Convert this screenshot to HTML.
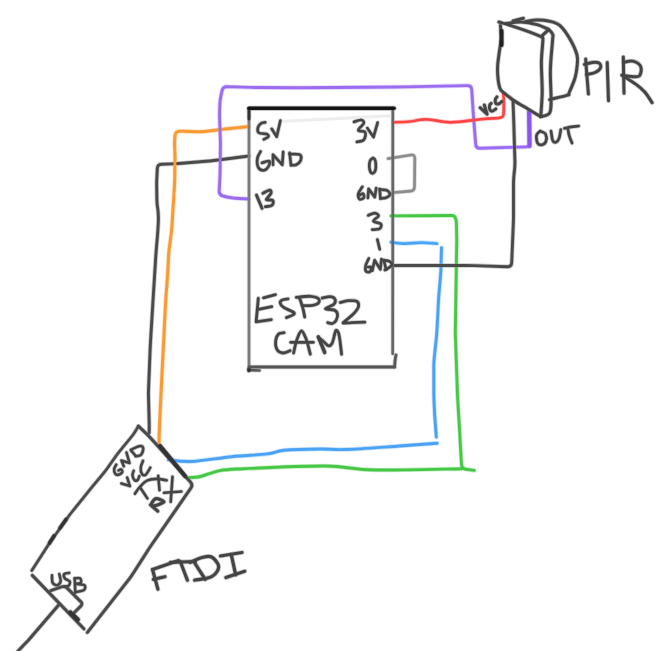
<!DOCTYPE html>
<html><head><meta charset="utf-8"><style>
html,body{margin:0;padding:0;background:#fff;width:671px;height:651px;overflow:hidden;font-family:"Liberation Sans",sans-serif;}
svg{display:block}
</style></head><body>
<svg width="671" height="651" viewBox="0 0 671 651">
<rect width="671" height="651" fill="#fff"/>
<g fill="none" stroke-linecap="round" stroke-linejoin="round" opacity="0.3">
<path d="M249.0,156.0 L214.0,160.5 Q210.0,161.0 206.0,161.3 L179.0,163.5 Q175.0,163.8 171.0,163.9 L161.5,164.3 Q157.5,164.4 157.3,168.4 L156.8,179.0 Q156.6,183.0 156.7,187.0 L156.9,200.0 Q157.0,204.0 157.6,207.9 L157.7,208.1 Q158.3,212.0 158.3,216.0 L158.4,218.0 Q158.4,222.0 158.1,226.0 L157.8,231.0 Q157.5,235.0 157.2,239.0 L156.4,248.0 Q156.1,252.0 155.8,256.0 L153.3,296.0 Q153.0,300.0 152.8,304.0 L150.5,342.0 Q150.3,346.0 150.1,350.0 L148.6,388.0 Q148.4,392.0 148.5,396.0 L149.2,423.6 Q149.3,426.7 149.2,429.9 L149.2,433.0" stroke="#4a4a4a" stroke-width="4.50"/>
<path d="M249.0,126.6 L225.0,129.0 Q221.0,129.4 217.0,129.9 L209.0,131.0 Q205.0,131.5 201.0,131.7 L199.3,131.8 Q195.3,132.0 191.3,131.6 L189.0,131.4 Q185.0,131.0 181.0,131.2 L179.5,131.3 Q175.5,131.5 175.0,135.5 L175.0,136.0 Q174.5,140.0 174.6,144.0 L174.9,156.0 Q175.0,160.0 174.9,164.0 L174.7,179.0 Q174.6,183.0 174.4,187.0 L172.0,225.0 Q171.8,229.0 171.3,233.0 L169.3,248.0 Q168.8,252.0 168.6,256.0 L167.8,271.0 Q167.6,275.0 167.3,279.0 L166.0,296.0 Q165.7,300.0 165.5,304.0 L163.6,342.0 Q163.4,346.0 163.2,350.0 L161.3,388.0 Q161.1,392.0 160.9,396.0 L159.7,421.0 Q159.5,425.0 159.4,429.0 L159.0,443.0" stroke="#f99a33" stroke-width="4.60"/>
<path d="M249.0,199.0 L235.0,198.2 Q231.0,198.0 227.1,197.0 L222.9,196.0 Q219.0,195.0 219.2,191.0 L219.8,179.0 Q220.0,175.0 220.1,171.0 L220.4,149.0 Q220.5,145.0 220.4,141.0 L219.6,119.0 Q219.5,115.0 219.6,111.0 L219.9,104.0 Q220.0,100.0 220.9,96.1 L222.1,90.4 Q223.0,86.5 227.0,86.6 L227.0,86.7 Q231.0,86.8 235.0,86.9 L251.0,87.4 Q255.0,87.5 259.0,87.5 L296.0,87.8 Q300.0,87.8 304.0,87.8 L396.0,87.0 Q400.0,87.0 404.0,86.9 L467.5,85.6 Q471.5,85.5 471.7,89.5 L472.8,106.0 Q473.0,110.0 473.3,114.0 L475.7,144.3 Q476.0,148.3 480.0,148.2 L525.9,146.9 Q529.9,146.8 529.8,142.8 L529.0,112.2" stroke="#9b6cf0" stroke-width="4.50"/>
<path d="M529.5,146.0 L529.2,112.0" stroke="#8a55ee" stroke-width="5.80"/>
<path d="M393.0,122.3 C395.8,122.2 404.5,122.0 410.0,121.5 C415.5,121.0 419.2,119.2 425.9,119.3 C432.6,119.4 441.6,122.2 450.0,122.3 C458.4,122.4 469.8,120.4 476.0,119.8 C482.2,119.2 483.5,119.0 487.3,118.7 C491.1,118.4 496.4,118.2 499.0,117.8 C501.6,117.4 502.0,117.3 502.8,116.3 C503.6,115.3 503.6,115.2 503.7,112.0 C503.8,108.8 503.7,100.3 503.6,97.3 C503.5,94.2 503.3,94.3 503.2,93.7" stroke="#ff4444" stroke-width="4.30"/>
<path d="M388.0,158.6 L410.8,155.0 Q414.8,154.4 414.8,158.4 L414.5,186.8 Q414.5,190.8 410.5,191.2 L393.0,192.7" stroke="#8c8c8c" stroke-width="4.30"/>
<path d="M391.0,215.9 L451.8,215.5 Q454.3,215.5 455.3,217.8 L455.3,217.8 Q456.3,220.0 456.4,222.5 L456.7,236.0 Q456.8,240.0 456.7,244.0 L455.4,328.0 Q455.3,332.0 455.4,336.0 L457.3,389.4 Q457.4,393.4 457.6,397.4 L459.7,432.0 Q459.9,436.0 460.1,440.0 L461.5,464.7 Q461.7,468.7 465.7,469.2 L474.3,470.4" stroke="#46c846" stroke-width="4.50"/>
<path d="M461.7,468.7 C447.2,468.9 397.8,470.4 375.0,470.0 C352.2,469.6 346.9,466.2 325.0,466.0 C303.1,465.8 261.1,467.9 243.5,468.7 C225.9,469.5 226.8,469.3 219.7,470.6 C212.5,471.9 206.2,475.3 200.6,476.5 C195.0,477.7 188.7,477.5 186.3,477.7" stroke="#46c846" stroke-width="4.50"/>
<path d="M391.0,242.3 C393.3,242.5 400.0,243.6 405.0,243.6 C410.0,243.6 415.7,242.6 421.0,242.6 C426.3,242.6 434.2,243.4 436.9,243.6" stroke="#4aa2f6" stroke-width="4.50"/>
<path d="M441.5,247.7 L441.0,266.7 Q440.9,270.7 440.6,274.7 L438.8,296.0 Q438.5,300.0 438.3,304.0 L437.1,328.0 Q436.9,332.0 436.5,336.0 L434.2,358.7 Q433.8,362.7 433.8,366.7 L433.8,389.4 Q433.8,393.4 433.9,397.4 L434.4,409.0 Q434.5,413.0 434.8,417.0 L436.3,437.0" stroke="#4aa2f6" stroke-width="4.50"/>
<path d="M437.2,443.3 C431.0,443.8 415.2,445.0 400.0,446.0 C384.8,447.0 359.3,449.0 346.0,449.5 C332.7,450.0 330.3,448.9 320.0,449.0 C309.7,449.1 292.8,449.5 284.0,450.3 C275.2,451.1 276.1,452.8 267.4,453.9 C258.7,455.0 244.3,455.4 231.6,456.7 C218.9,458.0 201.5,461.0 191.0,461.5 C180.5,462.0 172.2,460.1 168.4,459.8" stroke="#4aa2f6" stroke-width="4.50"/>
<path d="M393.0,265.5 L466.0,265.5 Q470.0,265.5 474.0,265.6 L507.5,266.7 Q511.5,266.8 511.7,262.8 L513.3,224.0 Q513.5,220.0 513.5,216.0 L513.5,184.0 Q513.5,180.0 513.9,176.0 L514.6,169.0 Q515.0,165.0 514.9,161.0 L514.1,134.0 Q514.0,130.0 513.9,126.0 L513.0,100.0" stroke="#4a4a4a" stroke-width="4.50"/>
<path d="M249.0,109.0 L249.0,370.5" stroke="#7a7a7a" stroke-width="4.20"/>
<path d="M249.0,370.0 L259.5,370.5" stroke="#585858" stroke-width="4.20"/>
<path d="M249.0,370.5 L249.0,369.0" stroke="#333333" stroke-width="5.20"/>
<path d="M249.0,108.3 L249.0,119.0" stroke="#333333" stroke-width="4.40"/>
<path d="M392.8,111.0 L392.7,353.8" stroke="#666666" stroke-width="4.20"/>
<path d="M396.0,355.0 L395.5,357.5 Q395.0,360.0 394.9,362.5 L394.6,367.0" stroke="#585858" stroke-width="4.40"/>
<path d="M249.0,367.0 L394.6,367.0" stroke="#555555" stroke-width="4.40"/>
<path d="M249.0,108.3 L394.0,108.3" stroke="#151515" stroke-width="5.10"/>
<path d="M265.2,122.4 C264.5,122.6 262.3,122.4 261.1,123.3 C259.9,124.2 258.1,126.3 257.8,127.9 C257.5,129.5 257.7,132.0 259.2,133.0 C260.7,134.0 265.1,133.3 266.6,133.9 C268.1,134.5 268.9,135.8 268.4,136.7 C267.9,137.6 264.6,138.9 263.8,139.4" stroke="#444444" stroke-width="4.30"/>
<path d="M271.7,128.8 L276.7,136.7 L280.4,120.5" stroke="#444444" stroke-width="4.30"/>
<path d="M260.6,151.4 C260.1,152.6 257.8,155.6 257.4,158.3 C257.0,161.0 257.2,165.5 258.3,167.5 C259.4,169.5 262.1,170.5 263.8,170.3 C265.5,170.2 267.5,168.1 268.4,166.6 C269.3,165.1 270.5,161.7 269.4,161.1 C268.3,160.5 263.2,162.6 262.0,162.9" stroke="#444444" stroke-width="4.30"/>
<path d="M273.0,164.8 L273.0,154.6 L282.3,164.8 L283.2,151.9" stroke="#444444" stroke-width="4.30"/>
<path d="M289.6,152.8 L291.0,165.2" stroke="#444444" stroke-width="4.30"/>
<path d="M289.6,154.2 C291.3,154.3 298.0,153.6 299.8,154.6 C301.6,155.6 301.3,158.5 300.7,160.2 C300.1,161.9 297.7,164.0 296.1,164.8 C294.5,165.6 291.9,165.1 291.0,165.2" stroke="#444444" stroke-width="4.30"/>
<path d="M256.5,195.1 L262.0,208.3" stroke="#444444" stroke-width="4.50"/>
<path d="M262.9,193.2 C264.0,192.7 268.4,190.0 269.7,190.1 C271.0,190.2 271.5,191.9 270.9,193.5 C270.3,195.1 266.0,198.6 266.3,199.7 C266.6,200.8 271.7,199.4 272.7,200.3 C273.7,201.2 273.3,204.1 272.1,205.2 C270.9,206.3 266.5,206.4 265.4,206.7" stroke="#444444" stroke-width="4.50"/>
<path d="M354.1,121.9 C355.2,121.6 359.4,119.6 361.0,119.8 C362.6,120.0 364.2,121.6 363.8,123.3 C363.4,125.0 358.1,128.7 358.3,130.2 C358.5,131.7 364.3,130.7 365.2,132.3 C366.1,133.9 365.2,138.2 363.8,139.8 C362.4,141.4 358.0,141.6 356.9,141.9" stroke="#444444" stroke-width="4.30"/>
<path d="M367.3,128.1 L373.5,137.1 L377.6,122.6" stroke="#444444" stroke-width="4.30"/>
<path d="M373.0,158.0 C372.5,158.4 370.8,159.1 370.2,160.5 C369.6,161.9 369.2,164.6 369.3,166.5 C369.4,168.4 369.9,170.9 370.5,172.0 C371.1,173.1 372.2,173.4 373.0,173.2 C373.8,172.9 374.8,172.0 375.3,170.5 C375.8,169.0 375.9,165.8 375.8,164.0 C375.7,162.2 375.3,160.5 374.8,159.5 C374.3,158.5 373.3,158.2 373.0,158.0" stroke="#444444" stroke-width="4.30"/>
<path d="M362.4,186.8 C361.7,188.0 358.8,191.6 358.3,193.7 C357.9,195.8 358.8,198.5 359.7,199.2 C360.6,199.9 363.2,198.7 363.8,197.8 C364.4,196.9 363.8,194.1 363.1,193.7 C362.4,193.2 360.3,194.9 359.7,195.1" stroke="#444444" stroke-width="4.30"/>
<path d="M367.9,197.8 L368.6,188.9 L374.8,197.1 L376.2,188.2" stroke="#444444" stroke-width="4.30"/>
<path d="M379.7,188.9 L380.4,198.5" stroke="#444444" stroke-width="4.30"/>
<path d="M379.7,189.5 C380.9,189.6 384.9,189.4 386.6,190.2 C388.3,191.0 390.1,193.1 390.0,194.4 C389.9,195.7 387.5,197.1 385.9,197.8 C384.3,198.5 381.3,198.4 380.4,198.5" stroke="#444444" stroke-width="4.30"/>
<path d="M368.2,215.4 C369.3,215.0 372.9,213.0 374.6,213.1 C376.3,213.2 378.8,214.6 378.6,215.9 C378.4,217.2 373.0,219.8 373.4,221.1 C373.8,222.4 379.8,222.8 380.9,224.0 C381.9,225.2 381.1,227.7 379.7,228.6 C378.3,229.5 373.5,229.5 372.3,229.7" stroke="#444444" stroke-width="4.30"/>
<path d="M377.4,239.5 L379.7,249.3" stroke="#444444" stroke-width="4.30"/>
<path d="M368.8,258.5 C368.3,259.6 366.4,262.7 365.9,264.8 C365.4,266.9 365.2,270.1 365.9,271.2 C366.6,272.3 369.1,272.4 370.0,271.7 C370.9,271.0 371.4,267.9 371.1,267.1 C370.8,266.3 368.7,267.1 368.2,267.1" stroke="#444444" stroke-width="4.30"/>
<path d="M372.3,270.6 L374.6,260.2 L380.3,269.4 L381.5,259.1" stroke="#444444" stroke-width="4.30"/>
<path d="M383.8,260.2 L386.1,269.4" stroke="#444444" stroke-width="4.30"/>
<path d="M383.8,260.2 C384.8,260.4 388.2,260.6 389.5,261.4 C390.8,262.2 392.2,263.6 391.8,264.8 C391.4,266.1 388.4,268.0 387.2,268.9 C386.0,269.8 385.3,269.8 384.9,270.0" stroke="#444444" stroke-width="4.30"/>
<path d="M258.3,298.3 L256.2,321.3" stroke="#444444" stroke-width="4.40"/>
<path d="M263.5,297.8 L275.5,294.7" stroke="#444444" stroke-width="4.40"/>
<path d="M258.3,309.3 L271.8,306.7" stroke="#444444" stroke-width="4.40"/>
<path d="M256.2,321.8 L271.3,319.7" stroke="#444444" stroke-width="4.40"/>
<path d="M288.0,298.9 C287.1,299.1 283.6,299.2 282.3,299.9 C281.0,300.6 280.0,301.8 280.2,303.0 C280.4,304.2 281.1,305.6 283.3,307.2 C285.6,308.8 292.1,311.1 293.7,312.4 C295.3,313.7 293.9,314.1 292.7,315.0 C291.5,315.9 287.4,317.2 286.4,317.6" stroke="#444444" stroke-width="4.40"/>
<path d="M299.5,297.8 C300.0,299.4 301.7,304.0 302.6,307.2 C303.5,310.4 304.4,315.5 304.7,317.1" stroke="#444444" stroke-width="4.40"/>
<path d="M296.3,297.3 C298.6,297.1 306.6,296.0 310.4,296.3 C314.1,296.6 317.6,297.7 318.8,298.9 C320.0,300.1 319.1,302.5 317.7,303.6 C316.3,304.7 313.0,305.3 310.4,305.6 C307.8,305.9 303.5,305.6 302.1,305.6" stroke="#444444" stroke-width="4.40"/>
<path d="M322.3,298.0 C323.6,297.8 327.8,296.6 329.9,296.7 C332.0,296.8 334.1,297.6 334.8,298.9 C335.5,300.2 335.5,302.6 333.9,304.3 C332.3,306.0 325.3,307.8 325.4,308.8 C325.5,309.8 332.4,309.2 334.4,310.1 C336.4,311.0 337.2,312.5 337.5,314.2 C337.8,315.9 336.9,318.8 336.1,320.4 C335.3,321.9 334.0,323.1 332.6,323.5 C331.2,323.9 328.5,322.8 327.7,322.6" stroke="#444444" stroke-width="4.40"/>
<path d="M340.2,302.5 C341.5,302.2 345.1,300.9 347.8,300.7 C350.6,300.5 354.9,300.2 356.7,301.2 C358.5,302.2 358.9,304.5 358.5,306.5 C358.1,308.5 356.1,311.0 354.0,313.3 C351.9,315.6 347.8,318.8 346.0,320.4 C344.2,322.0 342.4,322.7 343.3,323.1 C344.2,323.5 347.8,322.8 351.4,322.6 C355.0,322.5 362.6,322.3 364.8,322.2" stroke="#444444" stroke-width="4.40"/>
<path d="M284.1,332.7 C283.2,332.9 280.1,332.6 278.7,333.9 C277.3,335.2 276.0,337.9 275.7,340.5 C275.4,343.1 275.7,347.3 276.9,349.4 C278.1,351.5 280.7,352.8 282.9,353.0 C285.1,353.2 288.9,351.0 290.1,350.6" stroke="#444444" stroke-width="4.40"/>
<path d="M293.6,353.0 C294.1,350.9 295.3,344.2 296.6,340.5 C297.9,336.8 299.8,331.2 301.4,331.0 C303.0,330.8 304.7,335.4 306.2,339.3 C307.7,343.2 309.6,351.7 310.3,354.2" stroke="#444444" stroke-width="4.40"/>
<path d="M290.7,342.3 L313.3,342.3" stroke="#444444" stroke-width="4.40"/>
<path d="M318.3,336.9 C318.8,338.2 320.4,341.9 321.5,344.5 C322.6,347.1 324.1,351.1 324.6,352.4" stroke="#444444" stroke-width="5.10"/>
<path d="M318.9,337.5 C319.8,338.2 322.4,340.6 324.0,342.0 C325.6,343.4 327.2,345.6 328.5,345.9 C329.8,346.1 331.1,345.0 332.0,343.5 C332.9,342.0 333.4,339.2 334.0,337.0 C334.6,334.8 335.1,331.1 335.9,330.4 C336.6,329.7 337.8,331.2 338.5,333.0 C339.2,334.8 339.5,337.5 340.0,341.0 C340.5,344.5 341.3,352.0 341.6,354.2" stroke="#444444" stroke-width="4.40"/>
<path d="M480.1,107.7 L487.1,114.2 L484.3,105.0" stroke="#444444" stroke-width="4.60"/>
<path d="M491.2,103.4 C490.9,103.7 489.8,104.2 489.6,105.2 C489.4,106.2 489.4,108.4 489.8,109.4 C490.2,110.4 491.1,111.3 492.1,111.2 C493.1,111.1 495.2,109.3 495.8,108.9" stroke="#444444" stroke-width="4.60"/>
<path d="M497.0,96.9 C496.7,97.3 495.6,98.1 495.4,99.2 C495.2,100.3 495.2,102.6 495.8,103.4 C496.4,104.2 498.0,104.1 499.0,103.8 C500.0,103.5 501.3,101.9 501.8,101.5" stroke="#444444" stroke-width="4.60"/>
<path d="M540.2,131.0 C539.6,131.7 537.1,133.0 536.6,135.0 C536.1,137.0 536.6,141.4 537.5,143.0 C538.4,144.6 540.6,145.1 542.0,144.8 C543.4,144.5 545.4,143.1 546.0,141.3 C546.6,139.5 546.4,135.8 545.6,134.1 C544.8,132.4 541.9,131.8 541.1,131.4" stroke="#444444" stroke-width="4.30"/>
<path d="M551.0,131.0 C551.3,132.6 551.9,138.5 552.7,140.4 C553.5,142.3 554.9,142.5 555.9,142.2 C556.9,141.9 558.2,140.7 559.0,138.6 C559.8,136.5 560.5,131.1 560.8,129.6" stroke="#444444" stroke-width="4.30"/>
<path d="M564.4,128.3 C565.6,128.1 569.1,127.3 571.5,126.9 C573.9,126.5 577.5,126.2 578.7,126.0" stroke="#444444" stroke-width="4.30"/>
<path d="M567.9,128.7 C568.1,129.9 568.6,133.5 569.3,135.9 C570.0,138.3 571.5,141.8 572.0,143.0" stroke="#444444" stroke-width="4.30"/>
<path d="M585.7,59.1 C585.9,62.1 586.5,71.2 587.0,77.0 C587.5,82.8 588.2,91.2 588.4,94.0" stroke="#444444" stroke-width="4.60"/>
<path d="M584.4,64.4 C585.7,64.1 589.9,62.6 592.4,62.4 C594.9,62.2 597.8,62.2 599.1,63.1 C600.5,64.0 601.2,66.2 600.5,67.8 C599.8,69.4 597.5,71.4 595.1,72.5 C592.8,73.6 587.9,74.2 586.4,74.5" stroke="#444444" stroke-width="4.60"/>
<path d="M607.2,62.4 L608.5,100.7" stroke="#444444" stroke-width="4.60"/>
<path d="M623.3,57.1 L624.0,93.3" stroke="#444444" stroke-width="4.60"/>
<path d="M623.3,62.4 C624.9,62.2 629.8,60.4 632.7,61.1 C635.6,61.8 639.6,64.0 640.7,66.5 C641.8,69.0 641.0,74.1 639.4,75.8 C637.8,77.5 634.2,76.6 631.3,76.5 C628.4,76.4 623.5,75.4 622.0,75.2" stroke="#444444" stroke-width="4.60"/>
<path d="M622.0,75.2 C624.2,76.7 631.6,81.1 635.4,83.9 C639.2,86.7 641.9,88.8 644.7,91.9 C647.5,95.0 650.9,100.9 652.1,102.7" stroke="#444444" stroke-width="4.60"/>
<path d="M152.5,569.5 L157.9,589.2" stroke="#444444" stroke-width="4.80"/>
<path d="M152.5,569.5 L178.5,560.6" stroke="#444444" stroke-width="4.80"/>
<path d="M153.4,579.4 L165.0,576.7" stroke="#444444" stroke-width="4.80"/>
<path d="M170.4,562.4 L195.5,561.5" stroke="#444444" stroke-width="4.80"/>
<path d="M180.3,561.5 L187.4,580.2" stroke="#444444" stroke-width="4.80"/>
<path d="M193.7,561.5 L205.3,579.4" stroke="#444444" stroke-width="4.80"/>
<path d="M190.0,562.4 C192.0,561.6 198.4,558.4 202.0,557.5 C205.6,556.6 208.8,555.5 211.6,557.0 C214.4,558.5 218.7,563.5 218.7,566.8 C218.7,570.1 215.6,574.5 211.6,576.7 C207.6,578.9 197.4,579.6 194.6,580.2" stroke="#444444" stroke-width="4.80"/>
<path d="M220.5,556.0 L242.0,552.5" stroke="#444444" stroke-width="4.80"/>
<path d="M231.2,554.3 L235.7,574.9" stroke="#444444" stroke-width="4.80"/>
<path d="M225.9,577.6 L244.7,571.3" stroke="#444444" stroke-width="4.80"/>
<path d="M116.3,464.6 C116.0,465.3 114.4,467.4 114.2,468.9 C114.0,470.4 114.5,472.7 115.2,473.7 C115.9,474.7 117.3,475.1 118.5,474.8 C119.7,474.5 121.8,473.0 122.2,472.1 C122.6,471.2 121.7,469.7 121.1,469.4 C120.5,469.1 118.9,470.3 118.5,470.5" stroke="#444444" stroke-width="4.20"/>
<path d="M123.8,466.2 L121.4,460.5 L129.5,463.0 L126.5,452.5" stroke="#444444" stroke-width="4.20"/>
<path d="M130.8,450.1 L135.7,456.0" stroke="#444444" stroke-width="4.20"/>
<path d="M131.4,449.5 C132.8,448.9 138.0,446.2 140.0,446.0 C142.0,445.8 143.0,447.0 143.2,448.5 C143.4,450.0 142.2,453.6 141.0,454.9 C139.8,456.2 136.6,456.0 135.7,456.2" stroke="#444444" stroke-width="4.20"/>
<path d="M121.4,483.4 L129.9,486.1 L127.2,477.6" stroke="#444444" stroke-width="4.20"/>
<path d="M133.7,470.7 C133.5,471.5 132.3,473.7 132.5,475.3 C132.7,476.9 133.8,479.4 134.7,480.2 C135.6,481.0 136.9,480.6 137.7,479.9 C138.5,479.2 139.0,476.8 139.3,476.2" stroke="#444444" stroke-width="4.20"/>
<path d="M143.0,460.8 C142.6,461.9 141.0,465.1 140.8,467.3 C140.6,469.5 141.2,472.8 142.0,474.0 C142.8,475.2 144.3,475.8 145.7,474.7 C147.1,473.6 149.5,468.8 150.3,467.6" stroke="#444444" stroke-width="4.20"/>
<path d="M134.9,493.7 C135.7,492.6 137.8,489.2 139.8,487.0 C141.8,484.8 144.2,482.1 147.0,480.7 C149.8,479.3 153.5,479.0 156.8,478.9 C160.1,478.8 165.0,480.1 166.7,480.3" stroke="#444444" stroke-width="4.20"/>
<path d="M140.0,487.3 L147.4,498.4" stroke="#444444" stroke-width="4.20"/>
<path d="M158.2,475.8 L159.5,490.1" stroke="#444444" stroke-width="4.20"/>
<path d="M164.0,492.8 L181.4,491.5" stroke="#444444" stroke-width="4.20"/>
<path d="M172.5,476.7 L170.7,501.8" stroke="#444444" stroke-width="4.20"/>
<path d="M150.6,504.9 L157.7,511.1" stroke="#444444" stroke-width="4.80"/>
<path d="M151.5,503.5 C152.2,502.7 153.8,498.9 155.9,498.6 C158.0,498.3 163.8,500.7 164.0,501.8 C164.2,502.9 158.6,504.6 156.8,505.3 C155.0,506.0 153.9,505.7 153.3,505.8" stroke="#444444" stroke-width="4.80"/>
<path d="M52.0,575.4 C52.1,576.6 51.8,581.1 52.6,582.7 C53.4,584.3 55.6,585.4 56.9,585.2 C58.2,585.0 60.2,583.4 60.6,581.5 C61.0,579.6 59.5,575.3 59.3,574.1" stroke="#444444" stroke-width="4.20"/>
<path d="M69.2,572.9 C68.4,573.1 64.9,573.2 64.2,574.1 C63.5,575.0 64.0,577.2 64.9,578.4 C65.8,579.6 69.2,580.3 69.8,581.5 C70.4,582.7 69.3,585.0 68.5,585.8 C67.7,586.6 65.5,586.3 64.9,586.4" stroke="#444444" stroke-width="4.20"/>
<path d="M74.7,578.4 L75.3,592.6" stroke="#444444" stroke-width="4.20"/>
<path d="M74.7,578.4 C75.6,578.4 79.2,577.7 80.2,578.4 C81.2,579.1 81.4,581.8 80.8,582.7 C80.2,583.6 75.9,583.6 76.5,584.0 C77.1,584.4 83.3,584.2 84.5,585.2 C85.7,586.2 85.3,589.0 83.9,590.1 C82.5,591.2 77.2,591.7 75.9,592.0" stroke="#444444" stroke-width="4.20"/>
<path d="M498.9,22.0 C500.9,22.6 506.3,24.1 510.9,25.6 C515.5,27.1 521.5,29.1 526.5,30.9 C531.5,32.7 538.7,35.6 541.1,36.6" stroke="#464646" stroke-width="4.60"/>
<path d="M505.6,23.6 C508.2,23.3 516.1,21.8 521.3,22.0 C526.5,22.2 532.4,23.4 536.9,24.6 C541.4,25.8 546.5,28.5 548.4,29.3" stroke="#464646" stroke-width="4.60"/>
<path d="M512.9,21.0 L523.4,18.3" stroke="#464646" stroke-width="4.60"/>
<path d="M525.5,21.5 C527.4,21.2 533.1,20.0 536.9,19.9 C540.7,19.8 544.5,20.1 548.4,21.0 C552.2,21.9 556.3,22.4 560.0,25.6 C563.7,28.8 567.7,35.1 570.5,40.0 C573.3,44.9 575.9,50.8 577.0,55.0 C578.1,59.2 577.5,61.2 577.2,65.0 C576.9,68.8 576.4,73.3 575.0,78.0 C573.6,82.7 570.2,90.2 569.0,93.0 C567.8,95.8 570.7,94.0 567.5,95.1 C564.3,96.2 552.6,98.8 549.6,99.6" stroke="#464646" stroke-width="4.60"/>
<path d="M541.1,36.6 L548.4,29.8" stroke="#464646" stroke-width="4.60"/>
<path d="M548.4,29.3 C549.1,30.1 551.9,32.2 552.6,34.0 C553.3,35.8 553.0,34.0 552.6,40.0 C552.2,46.0 550.6,59.9 550.4,69.8 C550.1,79.7 551.2,92.4 551.1,99.6 C551.0,106.8 551.3,110.2 549.6,113.0 C547.9,115.8 542.2,116.1 540.7,116.7" stroke="#464646" stroke-width="4.60"/>
<path d="M542.2,36.6 C542.3,37.2 543.0,35.7 542.9,40.0 C542.8,44.3 541.5,53.7 541.4,62.4 C541.3,71.1 542.3,83.2 542.2,92.2 C542.1,101.2 541.0,112.6 540.7,116.7" stroke="#464646" stroke-width="4.60"/>
<path d="M500.4,25.6 C500.6,27.5 501.4,34.6 501.5,37.0 C501.6,39.4 501.6,37.0 501.2,40.0 C500.8,43.0 499.5,49.9 498.9,54.9 C498.3,59.9 497.4,64.3 497.5,69.8 C497.6,75.3 498.5,83.7 499.7,87.7 C500.9,91.7 502.5,91.6 504.9,93.7 C507.2,95.8 510.1,97.9 513.8,100.4 C517.5,102.9 522.8,105.9 527.3,108.6 C531.8,111.3 538.5,115.3 540.7,116.7" stroke="#464646" stroke-width="4.60"/>
<path d="M501.5,31.0 L501.5,45.0" stroke="#222" stroke-width="5.60"/>
<path d="M138.4,426.1 L136.2,429.9 Q134.2,433.4 131.7,436.5 L120.1,450.6 Q117.6,453.7 115.3,457.0 L108.4,466.7 Q106.1,470.0 103.6,473.1 L90.5,488.9 Q88.0,492.0 85.5,495.1 L71.5,512.5 Q69.0,515.6 66.7,518.9 L51.0,541.0 Q48.7,544.3 46.5,547.7 L31.8,570.5" stroke="#4a4a4a" stroke-width="4.30"/>
<path d="M49.5,543.0 L54.0,536.0" stroke="#333333" stroke-width="5.20"/>
<path d="M60.0,528.0 L66.0,519.5" stroke="#333333" stroke-width="5.20"/>
<path d="M138.4,426.1 L146.1,433.4 Q149.0,436.2 151.7,439.2 L190.4,481.9 Q193.1,484.9 190.8,488.2 L151.1,545.5 Q148.8,548.8 146.7,552.2 L133.7,572.5 Q131.6,575.9 129.1,579.1 L87.4,632.4" stroke="#4a4a4a" stroke-width="4.60"/>
<path d="M160.0,446.0 L185.0,476.0" stroke="#333333" stroke-width="5.80"/>
<path d="M32.3,575.4 L83.9,628.8" stroke="#4a4a4a" stroke-width="4.60"/>
<path d="M50.7,590.7 L61.5,586.9 Q63.0,586.4 64.5,586.7 L64.5,586.7 Q66.1,587.0 67.2,588.1 L81.2,602.1 Q82.1,603.0 81.8,604.2 L81.8,604.2 Q81.4,605.5 80.5,606.4 L74.1,612.8" stroke="#4a4a4a" stroke-width="4.60"/>
<path d="M70.4,612.5 L77.7,619.5" stroke="#333333" stroke-width="6.00"/>
<path d="M59.3,604.2 L28.6,640.0 L18.0,651.0" stroke="#4a4a4a" stroke-width="4.60"/>
</g>
<g fill="none" stroke-linecap="round" stroke-linejoin="round">
<path d="M283.0,121.3 C290.8,120.9 312.0,119.9 330.0,119.0 C348.0,118.1 380.8,116.2 391.0,115.7" stroke="#ededed" stroke-width="3.00"/>
<path d="M249.0,156.0 L214.0,160.5 Q210.0,161.0 206.0,161.3 L179.0,163.5 Q175.0,163.8 171.0,163.9 L161.5,164.3 Q157.5,164.4 157.3,168.4 L156.8,179.0 Q156.6,183.0 156.7,187.0 L156.9,200.0 Q157.0,204.0 157.6,207.9 L157.7,208.1 Q158.3,212.0 158.3,216.0 L158.4,218.0 Q158.4,222.0 158.1,226.0 L157.8,231.0 Q157.5,235.0 157.2,239.0 L156.4,248.0 Q156.1,252.0 155.8,256.0 L153.3,296.0 Q153.0,300.0 152.8,304.0 L150.5,342.0 Q150.3,346.0 150.1,350.0 L148.6,388.0 Q148.4,392.0 148.5,396.0 L149.2,423.6 Q149.3,426.7 149.2,429.9 L149.2,433.0" stroke="#4a4a4a" stroke-width="2.90"/>
<path d="M249.0,126.6 L225.0,129.0 Q221.0,129.4 217.0,129.9 L209.0,131.0 Q205.0,131.5 201.0,131.7 L199.3,131.8 Q195.3,132.0 191.3,131.6 L189.0,131.4 Q185.0,131.0 181.0,131.2 L179.5,131.3 Q175.5,131.5 175.0,135.5 L175.0,136.0 Q174.5,140.0 174.6,144.0 L174.9,156.0 Q175.0,160.0 174.9,164.0 L174.7,179.0 Q174.6,183.0 174.4,187.0 L172.0,225.0 Q171.8,229.0 171.3,233.0 L169.3,248.0 Q168.8,252.0 168.6,256.0 L167.8,271.0 Q167.6,275.0 167.3,279.0 L166.0,296.0 Q165.7,300.0 165.5,304.0 L163.6,342.0 Q163.4,346.0 163.2,350.0 L161.3,388.0 Q161.1,392.0 160.9,396.0 L159.7,421.0 Q159.5,425.0 159.4,429.0 L159.0,443.0" stroke="#f99a33" stroke-width="3.00"/>
<path d="M249.0,199.0 L235.0,198.2 Q231.0,198.0 227.1,197.0 L222.9,196.0 Q219.0,195.0 219.2,191.0 L219.8,179.0 Q220.0,175.0 220.1,171.0 L220.4,149.0 Q220.5,145.0 220.4,141.0 L219.6,119.0 Q219.5,115.0 219.6,111.0 L219.9,104.0 Q220.0,100.0 220.9,96.1 L222.1,90.4 Q223.0,86.5 227.0,86.6 L227.0,86.7 Q231.0,86.8 235.0,86.9 L251.0,87.4 Q255.0,87.5 259.0,87.5 L296.0,87.8 Q300.0,87.8 304.0,87.8 L396.0,87.0 Q400.0,87.0 404.0,86.9 L467.5,85.6 Q471.5,85.5 471.7,89.5 L472.8,106.0 Q473.0,110.0 473.3,114.0 L475.7,144.3 Q476.0,148.3 480.0,148.2 L525.9,146.9 Q529.9,146.8 529.8,142.8 L529.0,112.2" stroke="#9b6cf0" stroke-width="2.90"/>
<path d="M529.5,146.0 L529.2,112.0" stroke="#8a55ee" stroke-width="4.20"/>
<path d="M393.0,122.3 C395.8,122.2 404.5,122.0 410.0,121.5 C415.5,121.0 419.2,119.2 425.9,119.3 C432.6,119.4 441.6,122.2 450.0,122.3 C458.4,122.4 469.8,120.4 476.0,119.8 C482.2,119.2 483.5,119.0 487.3,118.7 C491.1,118.4 496.4,118.2 499.0,117.8 C501.6,117.4 502.0,117.3 502.8,116.3 C503.6,115.3 503.6,115.2 503.7,112.0 C503.8,108.8 503.7,100.3 503.6,97.3 C503.5,94.2 503.3,94.3 503.2,93.7" stroke="#ff4444" stroke-width="2.70"/>
<path d="M388.0,158.6 L410.8,155.0 Q414.8,154.4 414.8,158.4 L414.5,186.8 Q414.5,190.8 410.5,191.2 L393.0,192.7" stroke="#8c8c8c" stroke-width="2.70"/>
<path d="M391.0,215.9 L451.8,215.5 Q454.3,215.5 455.3,217.8 L455.3,217.8 Q456.3,220.0 456.4,222.5 L456.7,236.0 Q456.8,240.0 456.7,244.0 L455.4,328.0 Q455.3,332.0 455.4,336.0 L457.3,389.4 Q457.4,393.4 457.6,397.4 L459.7,432.0 Q459.9,436.0 460.1,440.0 L461.5,464.7 Q461.7,468.7 465.7,469.2 L474.3,470.4" stroke="#46c846" stroke-width="2.90"/>
<path d="M461.7,468.7 C447.2,468.9 397.8,470.4 375.0,470.0 C352.2,469.6 346.9,466.2 325.0,466.0 C303.1,465.8 261.1,467.9 243.5,468.7 C225.9,469.5 226.8,469.3 219.7,470.6 C212.5,471.9 206.2,475.3 200.6,476.5 C195.0,477.7 188.7,477.5 186.3,477.7" stroke="#46c846" stroke-width="2.90"/>
<path d="M391.0,242.3 C393.3,242.5 400.0,243.6 405.0,243.6 C410.0,243.6 415.7,242.6 421.0,242.6 C426.3,242.6 434.2,243.4 436.9,243.6" stroke="#4aa2f6" stroke-width="2.90"/>
<path d="M441.5,247.7 L441.0,266.7 Q440.9,270.7 440.6,274.7 L438.8,296.0 Q438.5,300.0 438.3,304.0 L437.1,328.0 Q436.9,332.0 436.5,336.0 L434.2,358.7 Q433.8,362.7 433.8,366.7 L433.8,389.4 Q433.8,393.4 433.9,397.4 L434.4,409.0 Q434.5,413.0 434.8,417.0 L436.3,437.0" stroke="#4aa2f6" stroke-width="2.90"/>
<path d="M437.2,443.3 C431.0,443.8 415.2,445.0 400.0,446.0 C384.8,447.0 359.3,449.0 346.0,449.5 C332.7,450.0 330.3,448.9 320.0,449.0 C309.7,449.1 292.8,449.5 284.0,450.3 C275.2,451.1 276.1,452.8 267.4,453.9 C258.7,455.0 244.3,455.4 231.6,456.7 C218.9,458.0 201.5,461.0 191.0,461.5 C180.5,462.0 172.2,460.1 168.4,459.8" stroke="#4aa2f6" stroke-width="2.90"/>
<path d="M393.0,265.5 L466.0,265.5 Q470.0,265.5 474.0,265.6 L507.5,266.7 Q511.5,266.8 511.7,262.8 L513.3,224.0 Q513.5,220.0 513.5,216.0 L513.5,184.0 Q513.5,180.0 513.9,176.0 L514.6,169.0 Q515.0,165.0 514.9,161.0 L514.1,134.0 Q514.0,130.0 513.9,126.0 L513.0,100.0" stroke="#4a4a4a" stroke-width="2.90"/>
<path d="M249.0,109.0 L249.0,370.5" stroke="#7a7a7a" stroke-width="2.60"/>
<path d="M249.0,370.0 L259.5,370.5" stroke="#585858" stroke-width="2.60"/>
<path d="M249.0,370.5 L249.0,369.0" stroke="#333333" stroke-width="3.60"/>
<path d="M249.0,108.3 L249.0,119.0" stroke="#333333" stroke-width="2.80"/>
<path d="M392.8,111.0 L392.7,353.8" stroke="#666666" stroke-width="2.60"/>
<path d="M396.0,355.0 L395.5,357.5 Q395.0,360.0 394.9,362.5 L394.6,367.0" stroke="#585858" stroke-width="2.80"/>
<path d="M249.0,367.0 L394.6,367.0" stroke="#555555" stroke-width="2.80"/>
<path d="M249.0,108.3 L394.0,108.3" stroke="#151515" stroke-width="3.50"/>
<path d="M265.2,122.4 C264.5,122.6 262.3,122.4 261.1,123.3 C259.9,124.2 258.1,126.3 257.8,127.9 C257.5,129.5 257.7,132.0 259.2,133.0 C260.7,134.0 265.1,133.3 266.6,133.9 C268.1,134.5 268.9,135.8 268.4,136.7 C267.9,137.6 264.6,138.9 263.8,139.4" stroke="#444444" stroke-width="2.70"/>
<path d="M271.7,128.8 L276.7,136.7 L280.4,120.5" stroke="#444444" stroke-width="2.70"/>
<path d="M260.6,151.4 C260.1,152.6 257.8,155.6 257.4,158.3 C257.0,161.0 257.2,165.5 258.3,167.5 C259.4,169.5 262.1,170.5 263.8,170.3 C265.5,170.2 267.5,168.1 268.4,166.6 C269.3,165.1 270.5,161.7 269.4,161.1 C268.3,160.5 263.2,162.6 262.0,162.9" stroke="#444444" stroke-width="2.70"/>
<path d="M273.0,164.8 L273.0,154.6 L282.3,164.8 L283.2,151.9" stroke="#444444" stroke-width="2.70"/>
<path d="M289.6,152.8 L291.0,165.2" stroke="#444444" stroke-width="2.70"/>
<path d="M289.6,154.2 C291.3,154.3 298.0,153.6 299.8,154.6 C301.6,155.6 301.3,158.5 300.7,160.2 C300.1,161.9 297.7,164.0 296.1,164.8 C294.5,165.6 291.9,165.1 291.0,165.2" stroke="#444444" stroke-width="2.70"/>
<path d="M256.5,195.1 L262.0,208.3" stroke="#444444" stroke-width="2.90"/>
<path d="M262.9,193.2 C264.0,192.7 268.4,190.0 269.7,190.1 C271.0,190.2 271.5,191.9 270.9,193.5 C270.3,195.1 266.0,198.6 266.3,199.7 C266.6,200.8 271.7,199.4 272.7,200.3 C273.7,201.2 273.3,204.1 272.1,205.2 C270.9,206.3 266.5,206.4 265.4,206.7" stroke="#444444" stroke-width="2.90"/>
<path d="M354.1,121.9 C355.2,121.6 359.4,119.6 361.0,119.8 C362.6,120.0 364.2,121.6 363.8,123.3 C363.4,125.0 358.1,128.7 358.3,130.2 C358.5,131.7 364.3,130.7 365.2,132.3 C366.1,133.9 365.2,138.2 363.8,139.8 C362.4,141.4 358.0,141.6 356.9,141.9" stroke="#444444" stroke-width="2.70"/>
<path d="M367.3,128.1 L373.5,137.1 L377.6,122.6" stroke="#444444" stroke-width="2.70"/>
<path d="M373.0,158.0 C372.5,158.4 370.8,159.1 370.2,160.5 C369.6,161.9 369.2,164.6 369.3,166.5 C369.4,168.4 369.9,170.9 370.5,172.0 C371.1,173.1 372.2,173.4 373.0,173.2 C373.8,172.9 374.8,172.0 375.3,170.5 C375.8,169.0 375.9,165.8 375.8,164.0 C375.7,162.2 375.3,160.5 374.8,159.5 C374.3,158.5 373.3,158.2 373.0,158.0" stroke="#444444" stroke-width="2.70"/>
<path d="M362.4,186.8 C361.7,188.0 358.8,191.6 358.3,193.7 C357.9,195.8 358.8,198.5 359.7,199.2 C360.6,199.9 363.2,198.7 363.8,197.8 C364.4,196.9 363.8,194.1 363.1,193.7 C362.4,193.2 360.3,194.9 359.7,195.1" stroke="#444444" stroke-width="2.70"/>
<path d="M367.9,197.8 L368.6,188.9 L374.8,197.1 L376.2,188.2" stroke="#444444" stroke-width="2.70"/>
<path d="M379.7,188.9 L380.4,198.5" stroke="#444444" stroke-width="2.70"/>
<path d="M379.7,189.5 C380.9,189.6 384.9,189.4 386.6,190.2 C388.3,191.0 390.1,193.1 390.0,194.4 C389.9,195.7 387.5,197.1 385.9,197.8 C384.3,198.5 381.3,198.4 380.4,198.5" stroke="#444444" stroke-width="2.70"/>
<path d="M368.2,215.4 C369.3,215.0 372.9,213.0 374.6,213.1 C376.3,213.2 378.8,214.6 378.6,215.9 C378.4,217.2 373.0,219.8 373.4,221.1 C373.8,222.4 379.8,222.8 380.9,224.0 C381.9,225.2 381.1,227.7 379.7,228.6 C378.3,229.5 373.5,229.5 372.3,229.7" stroke="#444444" stroke-width="2.70"/>
<path d="M377.4,239.5 L379.7,249.3" stroke="#444444" stroke-width="2.70"/>
<path d="M368.8,258.5 C368.3,259.6 366.4,262.7 365.9,264.8 C365.4,266.9 365.2,270.1 365.9,271.2 C366.6,272.3 369.1,272.4 370.0,271.7 C370.9,271.0 371.4,267.9 371.1,267.1 C370.8,266.3 368.7,267.1 368.2,267.1" stroke="#444444" stroke-width="2.70"/>
<path d="M372.3,270.6 L374.6,260.2 L380.3,269.4 L381.5,259.1" stroke="#444444" stroke-width="2.70"/>
<path d="M383.8,260.2 L386.1,269.4" stroke="#444444" stroke-width="2.70"/>
<path d="M383.8,260.2 C384.8,260.4 388.2,260.6 389.5,261.4 C390.8,262.2 392.2,263.6 391.8,264.8 C391.4,266.1 388.4,268.0 387.2,268.9 C386.0,269.8 385.3,269.8 384.9,270.0" stroke="#444444" stroke-width="2.70"/>
<path d="M258.3,298.3 L256.2,321.3" stroke="#444444" stroke-width="2.80"/>
<path d="M263.5,297.8 L275.5,294.7" stroke="#444444" stroke-width="2.80"/>
<path d="M258.3,309.3 L271.8,306.7" stroke="#444444" stroke-width="2.80"/>
<path d="M256.2,321.8 L271.3,319.7" stroke="#444444" stroke-width="2.80"/>
<path d="M288.0,298.9 C287.1,299.1 283.6,299.2 282.3,299.9 C281.0,300.6 280.0,301.8 280.2,303.0 C280.4,304.2 281.1,305.6 283.3,307.2 C285.6,308.8 292.1,311.1 293.7,312.4 C295.3,313.7 293.9,314.1 292.7,315.0 C291.5,315.9 287.4,317.2 286.4,317.6" stroke="#444444" stroke-width="2.80"/>
<path d="M299.5,297.8 C300.0,299.4 301.7,304.0 302.6,307.2 C303.5,310.4 304.4,315.5 304.7,317.1" stroke="#444444" stroke-width="2.80"/>
<path d="M296.3,297.3 C298.6,297.1 306.6,296.0 310.4,296.3 C314.1,296.6 317.6,297.7 318.8,298.9 C320.0,300.1 319.1,302.5 317.7,303.6 C316.3,304.7 313.0,305.3 310.4,305.6 C307.8,305.9 303.5,305.6 302.1,305.6" stroke="#444444" stroke-width="2.80"/>
<path d="M322.3,298.0 C323.6,297.8 327.8,296.6 329.9,296.7 C332.0,296.8 334.1,297.6 334.8,298.9 C335.5,300.2 335.5,302.6 333.9,304.3 C332.3,306.0 325.3,307.8 325.4,308.8 C325.5,309.8 332.4,309.2 334.4,310.1 C336.4,311.0 337.2,312.5 337.5,314.2 C337.8,315.9 336.9,318.8 336.1,320.4 C335.3,321.9 334.0,323.1 332.6,323.5 C331.2,323.9 328.5,322.8 327.7,322.6" stroke="#444444" stroke-width="2.80"/>
<path d="M340.2,302.5 C341.5,302.2 345.1,300.9 347.8,300.7 C350.6,300.5 354.9,300.2 356.7,301.2 C358.5,302.2 358.9,304.5 358.5,306.5 C358.1,308.5 356.1,311.0 354.0,313.3 C351.9,315.6 347.8,318.8 346.0,320.4 C344.2,322.0 342.4,322.7 343.3,323.1 C344.2,323.5 347.8,322.8 351.4,322.6 C355.0,322.5 362.6,322.3 364.8,322.2" stroke="#444444" stroke-width="2.80"/>
<path d="M284.1,332.7 C283.2,332.9 280.1,332.6 278.7,333.9 C277.3,335.2 276.0,337.9 275.7,340.5 C275.4,343.1 275.7,347.3 276.9,349.4 C278.1,351.5 280.7,352.8 282.9,353.0 C285.1,353.2 288.9,351.0 290.1,350.6" stroke="#444444" stroke-width="2.80"/>
<path d="M293.6,353.0 C294.1,350.9 295.3,344.2 296.6,340.5 C297.9,336.8 299.8,331.2 301.4,331.0 C303.0,330.8 304.7,335.4 306.2,339.3 C307.7,343.2 309.6,351.7 310.3,354.2" stroke="#444444" stroke-width="2.80"/>
<path d="M290.7,342.3 L313.3,342.3" stroke="#444444" stroke-width="2.80"/>
<path d="M318.3,336.9 C318.8,338.2 320.4,341.9 321.5,344.5 C322.6,347.1 324.1,351.1 324.6,352.4" stroke="#444444" stroke-width="3.50"/>
<path d="M318.9,337.5 C319.8,338.2 322.4,340.6 324.0,342.0 C325.6,343.4 327.2,345.6 328.5,345.9 C329.8,346.1 331.1,345.0 332.0,343.5 C332.9,342.0 333.4,339.2 334.0,337.0 C334.6,334.8 335.1,331.1 335.9,330.4 C336.6,329.7 337.8,331.2 338.5,333.0 C339.2,334.8 339.5,337.5 340.0,341.0 C340.5,344.5 341.3,352.0 341.6,354.2" stroke="#444444" stroke-width="2.80"/>
<path d="M480.1,107.7 L487.1,114.2 L484.3,105.0" stroke="#444444" stroke-width="3.00"/>
<path d="M491.2,103.4 C490.9,103.7 489.8,104.2 489.6,105.2 C489.4,106.2 489.4,108.4 489.8,109.4 C490.2,110.4 491.1,111.3 492.1,111.2 C493.1,111.1 495.2,109.3 495.8,108.9" stroke="#444444" stroke-width="3.00"/>
<path d="M497.0,96.9 C496.7,97.3 495.6,98.1 495.4,99.2 C495.2,100.3 495.2,102.6 495.8,103.4 C496.4,104.2 498.0,104.1 499.0,103.8 C500.0,103.5 501.3,101.9 501.8,101.5" stroke="#444444" stroke-width="3.00"/>
<path d="M540.2,131.0 C539.6,131.7 537.1,133.0 536.6,135.0 C536.1,137.0 536.6,141.4 537.5,143.0 C538.4,144.6 540.6,145.1 542.0,144.8 C543.4,144.5 545.4,143.1 546.0,141.3 C546.6,139.5 546.4,135.8 545.6,134.1 C544.8,132.4 541.9,131.8 541.1,131.4" stroke="#444444" stroke-width="2.70"/>
<path d="M551.0,131.0 C551.3,132.6 551.9,138.5 552.7,140.4 C553.5,142.3 554.9,142.5 555.9,142.2 C556.9,141.9 558.2,140.7 559.0,138.6 C559.8,136.5 560.5,131.1 560.8,129.6" stroke="#444444" stroke-width="2.70"/>
<path d="M564.4,128.3 C565.6,128.1 569.1,127.3 571.5,126.9 C573.9,126.5 577.5,126.2 578.7,126.0" stroke="#444444" stroke-width="2.70"/>
<path d="M567.9,128.7 C568.1,129.9 568.6,133.5 569.3,135.9 C570.0,138.3 571.5,141.8 572.0,143.0" stroke="#444444" stroke-width="2.70"/>
<path d="M585.7,59.1 C585.9,62.1 586.5,71.2 587.0,77.0 C587.5,82.8 588.2,91.2 588.4,94.0" stroke="#444444" stroke-width="3.00"/>
<path d="M584.4,64.4 C585.7,64.1 589.9,62.6 592.4,62.4 C594.9,62.2 597.8,62.2 599.1,63.1 C600.5,64.0 601.2,66.2 600.5,67.8 C599.8,69.4 597.5,71.4 595.1,72.5 C592.8,73.6 587.9,74.2 586.4,74.5" stroke="#444444" stroke-width="3.00"/>
<path d="M607.2,62.4 L608.5,100.7" stroke="#444444" stroke-width="3.00"/>
<path d="M623.3,57.1 L624.0,93.3" stroke="#444444" stroke-width="3.00"/>
<path d="M623.3,62.4 C624.9,62.2 629.8,60.4 632.7,61.1 C635.6,61.8 639.6,64.0 640.7,66.5 C641.8,69.0 641.0,74.1 639.4,75.8 C637.8,77.5 634.2,76.6 631.3,76.5 C628.4,76.4 623.5,75.4 622.0,75.2" stroke="#444444" stroke-width="3.00"/>
<path d="M622.0,75.2 C624.2,76.7 631.6,81.1 635.4,83.9 C639.2,86.7 641.9,88.8 644.7,91.9 C647.5,95.0 650.9,100.9 652.1,102.7" stroke="#444444" stroke-width="3.00"/>
<path d="M152.5,569.5 L157.9,589.2" stroke="#444444" stroke-width="3.20"/>
<path d="M152.5,569.5 L178.5,560.6" stroke="#444444" stroke-width="3.20"/>
<path d="M153.4,579.4 L165.0,576.7" stroke="#444444" stroke-width="3.20"/>
<path d="M170.4,562.4 L195.5,561.5" stroke="#444444" stroke-width="3.20"/>
<path d="M180.3,561.5 L187.4,580.2" stroke="#444444" stroke-width="3.20"/>
<path d="M193.7,561.5 L205.3,579.4" stroke="#444444" stroke-width="3.20"/>
<path d="M190.0,562.4 C192.0,561.6 198.4,558.4 202.0,557.5 C205.6,556.6 208.8,555.5 211.6,557.0 C214.4,558.5 218.7,563.5 218.7,566.8 C218.7,570.1 215.6,574.5 211.6,576.7 C207.6,578.9 197.4,579.6 194.6,580.2" stroke="#444444" stroke-width="3.20"/>
<path d="M220.5,556.0 L242.0,552.5" stroke="#444444" stroke-width="3.20"/>
<path d="M231.2,554.3 L235.7,574.9" stroke="#444444" stroke-width="3.20"/>
<path d="M225.9,577.6 L244.7,571.3" stroke="#444444" stroke-width="3.20"/>
<path d="M116.3,464.6 C116.0,465.3 114.4,467.4 114.2,468.9 C114.0,470.4 114.5,472.7 115.2,473.7 C115.9,474.7 117.3,475.1 118.5,474.8 C119.7,474.5 121.8,473.0 122.2,472.1 C122.6,471.2 121.7,469.7 121.1,469.4 C120.5,469.1 118.9,470.3 118.5,470.5" stroke="#444444" stroke-width="2.60"/>
<path d="M123.8,466.2 L121.4,460.5 L129.5,463.0 L126.5,452.5" stroke="#444444" stroke-width="2.60"/>
<path d="M130.8,450.1 L135.7,456.0" stroke="#444444" stroke-width="2.60"/>
<path d="M131.4,449.5 C132.8,448.9 138.0,446.2 140.0,446.0 C142.0,445.8 143.0,447.0 143.2,448.5 C143.4,450.0 142.2,453.6 141.0,454.9 C139.8,456.2 136.6,456.0 135.7,456.2" stroke="#444444" stroke-width="2.60"/>
<path d="M121.4,483.4 L129.9,486.1 L127.2,477.6" stroke="#444444" stroke-width="2.60"/>
<path d="M133.7,470.7 C133.5,471.5 132.3,473.7 132.5,475.3 C132.7,476.9 133.8,479.4 134.7,480.2 C135.6,481.0 136.9,480.6 137.7,479.9 C138.5,479.2 139.0,476.8 139.3,476.2" stroke="#444444" stroke-width="2.60"/>
<path d="M143.0,460.8 C142.6,461.9 141.0,465.1 140.8,467.3 C140.6,469.5 141.2,472.8 142.0,474.0 C142.8,475.2 144.3,475.8 145.7,474.7 C147.1,473.6 149.5,468.8 150.3,467.6" stroke="#444444" stroke-width="2.60"/>
<path d="M134.9,493.7 C135.7,492.6 137.8,489.2 139.8,487.0 C141.8,484.8 144.2,482.1 147.0,480.7 C149.8,479.3 153.5,479.0 156.8,478.9 C160.1,478.8 165.0,480.1 166.7,480.3" stroke="#444444" stroke-width="2.60"/>
<path d="M140.0,487.3 L147.4,498.4" stroke="#444444" stroke-width="2.60"/>
<path d="M158.2,475.8 L159.5,490.1" stroke="#444444" stroke-width="2.60"/>
<path d="M164.0,492.8 L181.4,491.5" stroke="#444444" stroke-width="2.60"/>
<path d="M172.5,476.7 L170.7,501.8" stroke="#444444" stroke-width="2.60"/>
<path d="M150.6,504.9 L157.7,511.1" stroke="#444444" stroke-width="3.20"/>
<path d="M151.5,503.5 C152.2,502.7 153.8,498.9 155.9,498.6 C158.0,498.3 163.8,500.7 164.0,501.8 C164.2,502.9 158.6,504.6 156.8,505.3 C155.0,506.0 153.9,505.7 153.3,505.8" stroke="#444444" stroke-width="3.20"/>
<path d="M52.0,575.4 C52.1,576.6 51.8,581.1 52.6,582.7 C53.4,584.3 55.6,585.4 56.9,585.2 C58.2,585.0 60.2,583.4 60.6,581.5 C61.0,579.6 59.5,575.3 59.3,574.1" stroke="#444444" stroke-width="2.60"/>
<path d="M69.2,572.9 C68.4,573.1 64.9,573.2 64.2,574.1 C63.5,575.0 64.0,577.2 64.9,578.4 C65.8,579.6 69.2,580.3 69.8,581.5 C70.4,582.7 69.3,585.0 68.5,585.8 C67.7,586.6 65.5,586.3 64.9,586.4" stroke="#444444" stroke-width="2.60"/>
<path d="M74.7,578.4 L75.3,592.6" stroke="#444444" stroke-width="2.60"/>
<path d="M74.7,578.4 C75.6,578.4 79.2,577.7 80.2,578.4 C81.2,579.1 81.4,581.8 80.8,582.7 C80.2,583.6 75.9,583.6 76.5,584.0 C77.1,584.4 83.3,584.2 84.5,585.2 C85.7,586.2 85.3,589.0 83.9,590.1 C82.5,591.2 77.2,591.7 75.9,592.0" stroke="#444444" stroke-width="2.60"/>
<path d="M498.9,22.0 C500.9,22.6 506.3,24.1 510.9,25.6 C515.5,27.1 521.5,29.1 526.5,30.9 C531.5,32.7 538.7,35.6 541.1,36.6" stroke="#464646" stroke-width="3.00"/>
<path d="M505.6,23.6 C508.2,23.3 516.1,21.8 521.3,22.0 C526.5,22.2 532.4,23.4 536.9,24.6 C541.4,25.8 546.5,28.5 548.4,29.3" stroke="#464646" stroke-width="3.00"/>
<path d="M512.9,21.0 L523.4,18.3" stroke="#464646" stroke-width="3.00"/>
<path d="M525.5,21.5 C527.4,21.2 533.1,20.0 536.9,19.9 C540.7,19.8 544.5,20.1 548.4,21.0 C552.2,21.9 556.3,22.4 560.0,25.6 C563.7,28.8 567.7,35.1 570.5,40.0 C573.3,44.9 575.9,50.8 577.0,55.0 C578.1,59.2 577.5,61.2 577.2,65.0 C576.9,68.8 576.4,73.3 575.0,78.0 C573.6,82.7 570.2,90.2 569.0,93.0 C567.8,95.8 570.7,94.0 567.5,95.1 C564.3,96.2 552.6,98.8 549.6,99.6" stroke="#464646" stroke-width="3.00"/>
<path d="M541.1,36.6 L548.4,29.8" stroke="#464646" stroke-width="3.00"/>
<path d="M548.4,29.3 C549.1,30.1 551.9,32.2 552.6,34.0 C553.3,35.8 553.0,34.0 552.6,40.0 C552.2,46.0 550.6,59.9 550.4,69.8 C550.1,79.7 551.2,92.4 551.1,99.6 C551.0,106.8 551.3,110.2 549.6,113.0 C547.9,115.8 542.2,116.1 540.7,116.7" stroke="#464646" stroke-width="3.00"/>
<path d="M542.2,36.6 C542.3,37.2 543.0,35.7 542.9,40.0 C542.8,44.3 541.5,53.7 541.4,62.4 C541.3,71.1 542.3,83.2 542.2,92.2 C542.1,101.2 541.0,112.6 540.7,116.7" stroke="#464646" stroke-width="3.00"/>
<path d="M500.4,25.6 C500.6,27.5 501.4,34.6 501.5,37.0 C501.6,39.4 501.6,37.0 501.2,40.0 C500.8,43.0 499.5,49.9 498.9,54.9 C498.3,59.9 497.4,64.3 497.5,69.8 C497.6,75.3 498.5,83.7 499.7,87.7 C500.9,91.7 502.5,91.6 504.9,93.7 C507.2,95.8 510.1,97.9 513.8,100.4 C517.5,102.9 522.8,105.9 527.3,108.6 C531.8,111.3 538.5,115.3 540.7,116.7" stroke="#464646" stroke-width="3.00"/>
<path d="M501.5,31.0 L501.5,45.0" stroke="#222" stroke-width="4.00"/>
<path d="M138.4,426.1 L136.2,429.9 Q134.2,433.4 131.7,436.5 L120.1,450.6 Q117.6,453.7 115.3,457.0 L108.4,466.7 Q106.1,470.0 103.6,473.1 L90.5,488.9 Q88.0,492.0 85.5,495.1 L71.5,512.5 Q69.0,515.6 66.7,518.9 L51.0,541.0 Q48.7,544.3 46.5,547.7 L31.8,570.5" stroke="#4a4a4a" stroke-width="2.70"/>
<path d="M49.5,543.0 L54.0,536.0" stroke="#333333" stroke-width="3.60"/>
<path d="M60.0,528.0 L66.0,519.5" stroke="#333333" stroke-width="3.60"/>
<path d="M138.4,426.1 L146.1,433.4 Q149.0,436.2 151.7,439.2 L190.4,481.9 Q193.1,484.9 190.8,488.2 L151.1,545.5 Q148.8,548.8 146.7,552.2 L133.7,572.5 Q131.6,575.9 129.1,579.1 L87.4,632.4" stroke="#4a4a4a" stroke-width="3.00"/>
<path d="M160.0,446.0 L185.0,476.0" stroke="#333333" stroke-width="4.20"/>
<path d="M32.3,575.4 L83.9,628.8" stroke="#4a4a4a" stroke-width="3.00"/>
<path d="M50.7,590.7 L61.5,586.9 Q63.0,586.4 64.5,586.7 L64.5,586.7 Q66.1,587.0 67.2,588.1 L81.2,602.1 Q82.1,603.0 81.8,604.2 L81.8,604.2 Q81.4,605.5 80.5,606.4 L74.1,612.8" stroke="#4a4a4a" stroke-width="3.00"/>
<path d="M70.4,612.5 L77.7,619.5" stroke="#333333" stroke-width="4.40"/>
<path d="M59.3,604.2 L28.6,640.0 L18.0,651.0" stroke="#4a4a4a" stroke-width="3.00"/>
</g>
</svg>
</body></html>
